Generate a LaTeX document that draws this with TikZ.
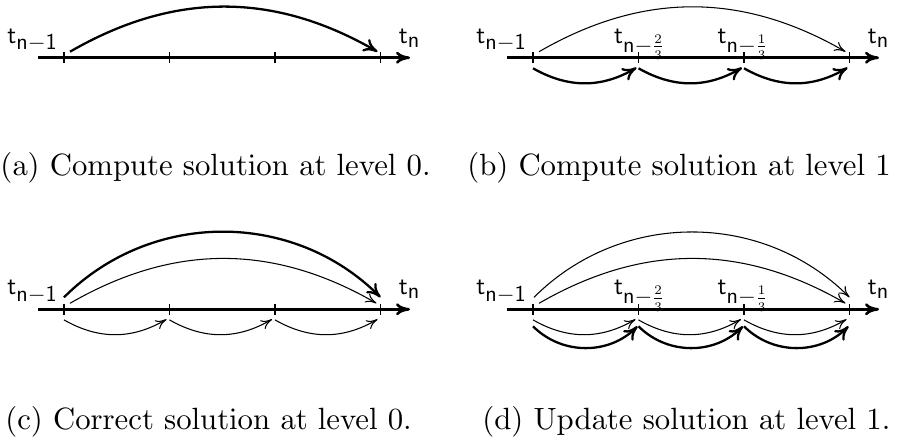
\documentclass[tikz,border=0pt]{standalone}
\usepackage{fix-cm}
\usepackage{amsmath}
\usetikzlibrary{arrows.meta, calc}
\DeclareMathSizes{14.4}{14.4}{13}{7.5}
\font\capfont=cmr10 at 17.5pt

\newcommand{\tn}[1]{$\mathsf{t}_{#1}$}

\begin{document}
\begin{tikzpicture}[x=0.02cm, y=0.02cm,
    axis/.style={line width=1.5pt, -{To[length=2.8mm,width=2.4mm]}},
    endtick/.style={line width=1.1pt},
    midtick/.style={line width=0.6pt},
    bigarc/.style={line width=1.3pt, -{To[length=2.8mm,width=2.8mm]}},
    smallarc/.style={line width=0.6pt, -{To[length=2.2mm,width=2mm]}},
    tlab/.style={inner sep=0pt, font=\fontsize{14.4}{17}\selectfont},
    caption/.style={inner sep=0pt, anchor=base west, font=\capfont}]
  \useasboundingbox (0,0) rectangle (898,441);

  % time lines with ticks
  \foreach \p/\x/\y in {a/64/383.3, b/533/383.3, c/64/131.7, d/533/131.7} {
    \coordinate (\p-start) at (\x-26,\y);
    \coordinate (\p-end) at (\x+346,\y);
    \draw[axis] (\p-start) -- (\p-end);
    \foreach \i in {0,...,3}
      \coordinate (\p\i) at (\x+105.5*\i,\y);
    \draw[endtick] ([shift={(0,-5.3)}]\p0) -- ([shift={(0,5.3)}]\p0);
    \draw[midtick] ([shift={(0,-5.3)}]\p1) -- ([shift={(0,5.3)}]\p1);
    \draw[midtick] ([shift={(0,-5.3)}]\p2) -- ([shift={(0,5.3)}]\p2);
    \draw[endtick] ([shift={(0,-5.3)}]\p3) -- ([shift={(0,5.3)}]\p3);
    \node[tlab, anchor=base east] (\p-first) at ([shift={(-6,14.4)}]\p0) {\tn{\mathsf{n}-\mathsf{1}}};
    \node[tlab, anchor=base west] (\p-last) at ([shift={(18,14.4)}]\p3) {\tn{\mathsf{n}}};
  }

  % fine level labels
  \foreach \p in {b,d} {
    \node[tlab, anchor=base] (\p-twothirds) at ([shift={(1,14.4)}]\p1) {\tn{\mathsf{n}-\frac{2}{3}}};
    \node[tlab, anchor=base] (\p-onethird) at ([shift={(-1,14.4)}]\p2) {\tn{\mathsf{n}-\frac{1}{3}}};
  }

  % level 0 steps
  \draw[bigarc] ([shift={(6,6)}]a0) to[bend left=30] ([shift={(-3,6)}]a3);
  \draw[smallarc] ([shift={(6,6)}]b0) to[bend left=30] ([shift={(-4,6)}]b3);
  \draw[bigarc] ([shift={(0,12)}]c0) to[bend left=45] ([shift={(0,12)}]c3);
  \draw[smallarc] ([shift={(6,6)}]c0) to[bend left=30] ([shift={(-4,6)}]c3);
  \draw[smallarc] ([shift={(1,12)}]d0) to[bend left=45] ([shift={(0,12)}]d3);
  \draw[smallarc] ([shift={(6,6)}]d0) to[bend left=30] ([shift={(-4,6)}]d3);

  % level 1 steps
  \foreach \i/\j in {0/1,1/2,2/3} {
    \draw[bigarc] ([shift={(0,-10.6)}]b\i) to[bend right=30] ([shift={(-2,-10)}]b\j);
    \draw[smallarc] ([shift={(0,-10.6)}]c\i) to[bend right=30] ([shift={(-3,-10)}]c\j);
    \draw[smallarc] ([shift={(0,-10.6)}]d\i) to[bend right=30] ([shift={(-3,-10)}]d\j);
    \draw[bigarc] ([shift={(0,-17)}]d\i) to[bend right=45] ([shift={(-1,-17)}]d\j);
  }

  % captions
  \node[caption] (cap-a) at (0,266) {(a) Compute solution at level 0.};
  \node[caption] (cap-b) at (467,266) {(b) Compute solution at level 1};
  \node[caption] (cap-c) at (5,12) {(c) Correct solution at level 0.};
  \node[caption] (cap-d) at (482,12) {(d) Update solution at level 1.};
\end{tikzpicture}
\end{document}
